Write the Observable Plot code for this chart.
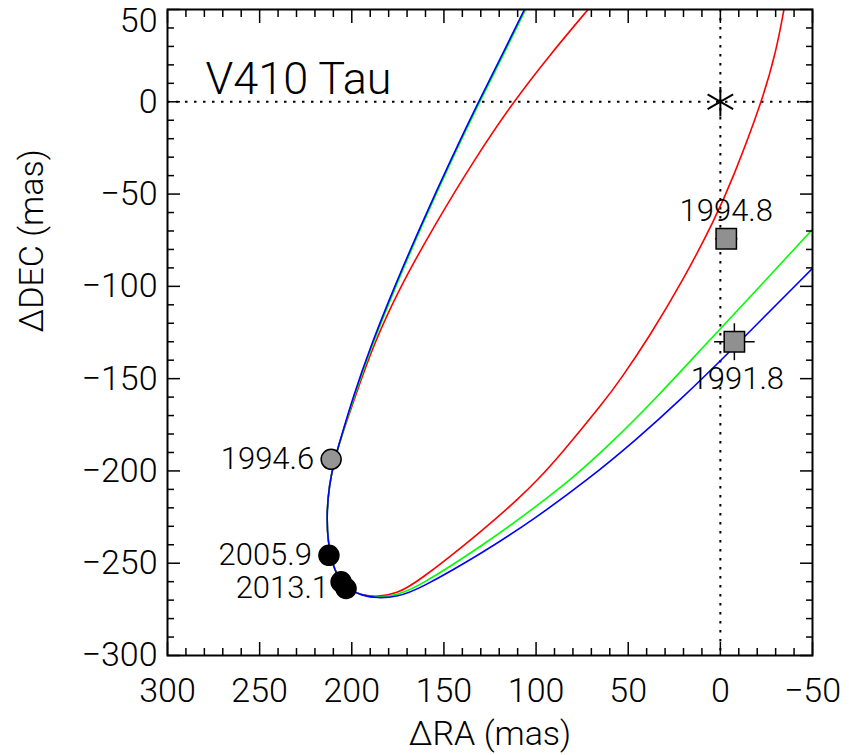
<!DOCTYPE html>
<html><head><meta charset="utf-8">
<script src="https://cdn.jsdelivr.net/npm/d3@7"></script>
<script src="https://cdn.jsdelivr.net/npm/@observablehq/plot@0.6"></script>
<style>body{margin:0;background:#fff}svg{background:#fff}</style>
</head><body><div id="chart"></div>
<script>
// ---- data ----
const title = "V410 Tau";
const xLabel = "ΔRA (mas)";
const yLabel = "ΔDEC (mas)";
const xTicks = [300, 250, 200, 150, 100, 50, 0, -50];
const yTicks = [0, -50, -100, -150, -200, -250, -300];
const yTopTick = [50];

// orbit solutions
const redRA  = [71.8, 92.7, 112.3, 132.6, 154.6, 174.8, 188.7, 198.2, 206.3, 209.3, 212.3, 213.6, 213.1, 210.4, 205.8, 200.9, 195.0, 185.9, 175.5, 165.2, 128.7, 108.5, 99.3, 86.9, 62.5, 54.5, 38.6, 20.2, 3.3, -6.4, -22.6, -30.4, -34.5];
const redDEC = [50, 25.2, 0, -29.9, -66.0, -102.1, -132.8, -159.9, -183.4, -193.7, -207.8, -222.9, -237.5, -251.6, -260.3, -264.6, -267.2, -268.4, -266.3, -261.0, -232.1, -214.1, -205.0, -191.5, -161.7, -150.9, -127.4, -96.7, -64.2, -42.5, 0, 27.9, 50];
const greenRA  = [105.7, 118.7, 130.6, 145.1, 161.6, 177.1, 189.4, 198.8, 206.3, 209.3, 212.3, 213.6, 213.1, 210.4, 205.8, 200.9, 195.0, 185.9, 175.0, 164.3, 128.3, 101.2, 80.5, 59.8, 35.4, 3.9, -10.5, -50];
const greenDEC = [50, 23.6, 0, -29.9, -66.0, -102.1, -132.8, -159.9, -183.4, -193.7, -207.8, -222.9, -237.5, -251.6, -260.3, -264.6, -267.3, -268.9, -267.1, -263.0, -240.0, -220.2, -204.2, -185.5, -161.2, -127.0, -111.9, -69.1];
const blueRA  = [106.3, 119.3, 131.2, 145.6, 162.1, 177.7, 189.9, 199.3, 206.3, 209.3, 212.3, 213.6, 213.1, 210.4, 205.8, 200.9, 195.0, 185.9, 175.0, 164.3, 128.3, 101.2, 71.5, 45.3, 21.9, -5.1, -50];
const blueDEC = [50, 23.6, 0, -29.9, -66.0, -102.1, -132.8, -159.9, -183.4, -193.7, -207.8, -222.9, -237.5, -251.6, -260.3, -264.6, -267.3, -269.1, -268.0, -264.6, -244.0, -226.2, -204.5, -182.8, -161.7, -135.5, -90.2];

// observed positions (circles)
const circLabel = ["1994.6", "2005.9", "", "2013.1"];
const circRA    = [211.2, 212.4, 205.8, 203.1];
const circDEC   = [-193.7, -245.7, -260.1, -263.7];
const circFill  = ["#959595", "black", "black", "black"];

// observed positions (squares, with errors)
const sqLabel  = ["1994.8", "1991.8"];
const sqRA     = [-3.2, -7.6];
const sqDEC    = [-74.2, -130.0];
const sqErrRA  = [6, 11];
const sqErrDEC = [2, 10];

// primary star
const starRA = [0];
const starDEC = [0];

// ---- build tables ----
const orbit = (ra, dec, c) => ra.map((r, i) => ({ra: r, dec: dec[i], c}));
const orbits = [orbit(redRA, redDEC, "red"), orbit(greenRA, greenDEC, "#00ff00"), orbit(blueRA, blueDEC, "blue")];
const circles = circRA.map((r, i) => ({ra: r, dec: circDEC[i], fill: circFill[i], label: circLabel[i]}));
const squares = sqRA.map((r, i) => ({ra: r, dec: sqDEC[i], label: sqLabel[i], ex: sqErrRA[i], ey: sqErrDEC[i]}));
const star = starRA.map((r, i) => ({ra: r, dec: starDEC[i]}));

const xMinor = d3.range(-50, 301, 10).filter(v => v % 50 !== 0);
const yMinor = d3.range(-300, 51, 10).filter(v => v % 50 !== 0);
const yMajor = yTicks.concat(yTopTick);

const FF = "Roboto, DejaVu Sans, sans-serif";
const FW = 300;

const chart = Plot.plot({
  width: 849, height: 755,
  marginLeft: 167, marginRight: 37, marginTop: 9, marginBottom: 100,
  style: {background: "white", color: "black", fontFamily: FF},
  x: {domain: [300, -50]},
  y: {domain: [-300, 50]},
  marks: [
    // dotted reference lines
    Plot.ruleX(star, {x: "ra", stroke: "black", strokeWidth: 2, strokeDasharray: "2.5,6.5"}),
    Plot.ruleY(star, {y: "dec", stroke: "black", strokeWidth: 2, strokeDasharray: "2.5,6.5"}),
    // orbits
    ...orbits.map(o => Plot.line(o, {x: "ra", y: "dec", stroke: d => d.c, strokeWidth: 1.6, curve: "basis", clip: true})),
    // error bars
    Plot.link(squares, {x1: d => d.ra - d.ex, x2: d => d.ra + d.ex, y1: "dec", y2: "dec", stroke: "black", strokeWidth: 1.5}),
    Plot.link(squares, {x1: "ra", x2: "ra", y1: d => d.dec - d.ey, y2: d => d.dec + d.ey, stroke: "black", strokeWidth: 1.5}),
    // markers
    Plot.dot(squares, {x: "ra", y: "dec", symbol: "square", r: 11.5, fill: "#909090", stroke: "black", strokeWidth: 1.5}),
    Plot.dot(circles, {x: "ra", y: "dec", r: 10, fill: "fill", stroke: "black", strokeWidth: 1.5}),
    Plot.dot(star, {x: "ra", y: "dec", symbol: "asterisk", r: 14, stroke: "black", strokeWidth: 2}),
    // labels
    Plot.text(circles, {x: "ra", y: "dec", text: "label", textAnchor: "end", dx: -17, fontSize: 31, fontWeight: FW, fill: "black"}),
    Plot.text(squares.slice(0, 1), {x: "ra", y: "dec", text: "label", dy: -28, fontSize: 31, fontWeight: FW, fill: "black"}),
    Plot.text(squares.slice(1), {x: "ra", y: "dec", text: "label", dx: 3, dy: 37, fontSize: 31, fontWeight: FW, fill: "black"}),
    Plot.text([title], {frameAnchor: "top-left", dx: 38, dy: 53, textAnchor: "start", fontSize: 45, fontWeight: FW, fill: "black"}),
    // axes: labels
    Plot.axisX({anchor: "bottom", ticks: xTicks, tickSize: 0, tickPadding: 22, fontSize: 34, fontWeight: FW, label: null}),
    Plot.axisY({anchor: "left", ticks: yTicks, tickSize: 0, tickPadding: 10, fontSize: 34, fontWeight: FW, label: null}),
    Plot.axisY({anchor: "left", ticks: yTopTick, tickSize: 0, tickPadding: 10, dy: 12, fontSize: 34, fontWeight: FW, label: null}),
    // inward ticks
    Plot.axisX({anchor: "bottom", ticks: xTicks, tickSize: -13, text: null, label: null, strokeWidth: 1.5}),
    Plot.axisX({anchor: "bottom", ticks: xMinor, tickSize: -7, text: null, label: null, strokeWidth: 1.5}),
    Plot.axisX({anchor: "top", ticks: xTicks, tickSize: -13, text: null, label: null, strokeWidth: 1.5}),
    Plot.axisX({anchor: "top", ticks: xMinor, tickSize: -7, text: null, label: null, strokeWidth: 1.5}),
    Plot.axisY({anchor: "left", ticks: yMajor, tickSize: -13, text: null, label: null, strokeWidth: 1.5}),
    Plot.axisY({anchor: "left", ticks: yMinor, tickSize: -7, text: null, label: null, strokeWidth: 1.5}),
    Plot.axisY({anchor: "right", ticks: yMajor, tickSize: -13, text: null, label: null, strokeWidth: 1.5}),
    Plot.axisY({anchor: "right", ticks: yMinor, tickSize: -7, text: null, label: null, strokeWidth: 1.5}),
    // axis titles
    Plot.text([xLabel], {frameAnchor: "bottom", dy: 89, fontSize: 34, fontWeight: FW, fill: "black"}),
    Plot.text([yLabel], {frameAnchor: "left", dx: -135, rotate: -90, fontSize: 34, fontWeight: FW, fill: "black"}),
    Plot.frame({stroke: "black", strokeWidth: 2})
  ]
});
document.getElementById("chart").append(chart);
</script>
</body></html>
